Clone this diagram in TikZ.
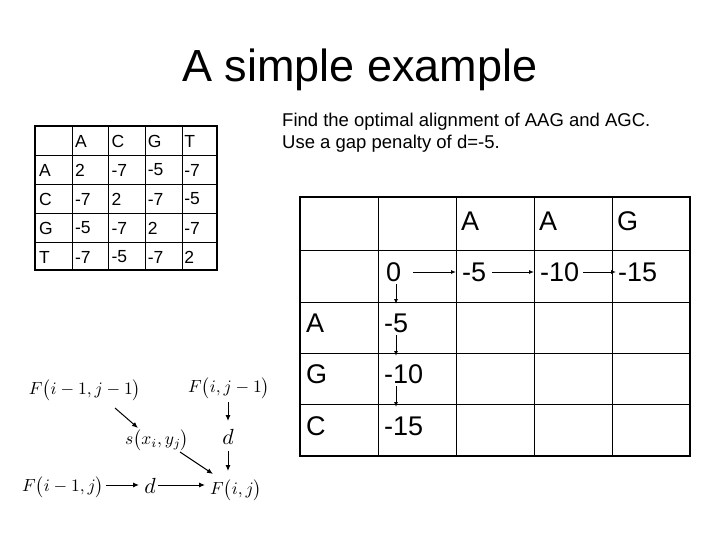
\documentclass[tikz,border=0pt]{standalone}
\usepackage{fontspec}
\setmainfont{Liberation Sans}
\usetikzlibrary{arrows.meta}
\begin{document}
\begin{tikzpicture}[x=1pt,y=-1pt,
  sm/.style={font=\fontsize{17.5}{20}\selectfont,anchor=west,inner sep=0},
  bg/.style={font=\fontsize{27}{30}\selectfont,anchor=west,inner sep=0},
  fm/.style={font=\normalsize,inner sep=1pt,scale=1.75,transform shape},
  ar/.style={-{Latex[length=6pt,width=5pt]},line width=1pt}]
\useasboundingbox (0,0) rectangle (720,540);
\node[font=\fontsize{45}{50}\selectfont] (title) at (360,70) {A simple example};
% small table
\draw[line width=1.2pt] (35,126) rectangle (217,270);
\foreach \x in {72,108,145,182} \draw[line width=0.6pt] (\x,126) -- (\x,270);
\foreach \y in {155,184,213,242} \draw[line width=0.6pt] (35,\y) -- (217,\y);
\foreach \t [count=\i] in {A,C,G,T} {
  \node[sm] (ch\i) at ({36.5+36.4*\i+2},141) {\t};
  \node[sm] (rh\i) at (39,{141+29*\i}) {\t};}
\foreach \r [count=\j] in {{2,-7,-5,-7},{-7,2,-7,-5},{-5,-7,2,-7},{-7,-5,-7,2}}
  \foreach \v [count=\i] in \r \node[sm] (c\i\j) at ({36.5+36.4*\i+2},{141+29*\j}) {\v};
% instruction
\node[font=\fontsize{18.5}{21.5}\selectfont,align=left,anchor=north west,inner sep=0] (txt) at (282,113) {Find the optimal alignment of AAG and AGC.\\Use a gap penalty of d=-5.};
% big table
\draw[line width=1.3pt] (300,197) rectangle (690,456);
\foreach \x in {378,456,534,612} \draw[line width=0.6pt] (\x,197) -- (\x,456);
\foreach \y in {250,302,353,404} \draw[line width=0.6pt] (300,\y) -- (690,\y);
\node[bg] (hA1) at (461,221) {A};
\node[bg] (hA2) at (539,221) {A};
\node[bg] (hG) at (617,221) {G};
\node[bg] (v0) at (386,272) {0};
\node[bg] (v1) at (462,272) {-5};
\node[bg] (v2) at (540,272) {-10};
\node[bg] (v3) at (618,272) {-15};
\node[bg] (rA) at (306,323) {A};
\node[bg] (rG) at (306,374) {G};
\node[bg] (rC) at (306,426) {C};
\node[bg] (w1) at (384,323) {-5};
\node[bg] (w2) at (384,374) {-10};
\node[bg] (w3) at (384,426) {-15};
\tikzset{sar/.style={-{Latex[length=5pt,width=4pt]},line width=0.9pt}}
\draw[sar] ([xshift=12pt]v0.east) -- ([xshift=-6pt]v1.west);
\draw[sar] ([xshift=6pt]v1.east) -- ([xshift=-6pt]v2.west);
\draw[sar] ([xshift=4pt]v2.east) -- ([xshift=-2pt]v3.west);
\draw[sar] (396,284) -- (396,304);
\draw[sar] (396,335) -- (396,356);
\draw[sar] (396,386) -- (396,407);
% recurrence diagram
\node[fm] (f11) at (85,390) {$F\bigl(i-1,j-1\bigr)$};
\node[fm] (f01) at (229,388) {$F\bigl(i,j-1\bigr)$};
\node[fm] (s) at (157,440) {$s\bigl(x_i,y_j\bigr)$};
\node[fm,scale=1.25] (d1) at (228,437) {$d$};
\node[fm] (f10) at (63,487) {$F\bigl(i-1,j\bigr)$};
\node[fm,scale=1.25] (d2) at (150,486) {$d$};
\node[fm] (f00) at (236,490) {$F\bigl(i,j\bigr)$};
\draw[ar] (115,408) -- (138,428);
\draw[ar] (228,402) -- (228,421);
\draw[ar] (228,451) -- (228,471);
\draw[ar] (180,452) -- (213,474);
\draw[ar] (106,485) -- (139,485);
\draw[ar] (158,485) -- (205,485);
\end{tikzpicture}
\end{document}
